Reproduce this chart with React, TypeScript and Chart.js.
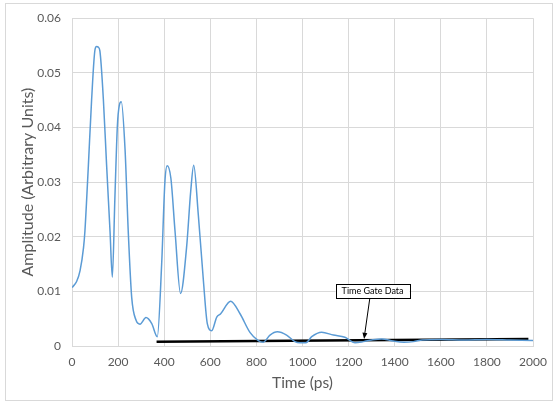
import React, { useEffect, useRef } from "react";
import { Chart, registerables } from "chart.js";

Chart.register(...registerables);

// Measured waveform: time (ps) and amplitude (arbitrary units)
const timePs = [
  0, 20, 35, 50, 56, 65, 71, 85, 100, 107, 114, 121, 136, 150, 165, 175, 186, 197, 205, 214,
  230, 244, 259, 278, 295, 321, 346, 370, 389, 403, 413, 429, 447, 471, 497, 515, 528, 548,
  570, 587, 606, 628, 645, 688, 729, 772, 808, 830, 859, 891, 931, 967, 989, 1015, 1040,
  1083, 1134, 1184, 1228, 1264, 1300, 1343, 1394, 1440, 1481, 1520, 1600, 1700, 1800, 1900, 2000,
];
const amplitude = [
  0.0107, 0.0118, 0.0138, 0.018, 0.021, 0.028, 0.033, 0.045, 0.0543, 0.0548, 0.0547, 0.054,
  0.0452, 0.0332, 0.021, 0.0126, 0.027, 0.0404, 0.044, 0.0447, 0.0361, 0.021, 0.0089, 0.0047,
  0.004, 0.0052, 0.0041, 0.0017, 0.015, 0.03, 0.033, 0.0307, 0.021, 0.0096, 0.018, 0.0283,
  0.0331, 0.024, 0.012, 0.0041, 0.0028, 0.0053, 0.0059, 0.0082, 0.0059, 0.0025, 0.001, 0.0007,
  0.002, 0.0026, 0.002, 0.0008, 0.0006, 0.0006, 0.0017, 0.0025, 0.002, 0.0016, 0.0006, 0.0008,
  0.0011, 0.0013, 0.0009, 0.0007, 0.0008, 0.0011, 0.0012, 0.0011, 0.0012, 0.0011, 0.001,
];

// Time gate data
const gateTimes = [367, 1980];
const gateAmps = [0.0008, 0.00127];

// Annotation
const gateLabelText = "Time Gate Data";
const gateLabelTime = 1304;
const gateLabelAmp = 0.0101;
const arrowTipTime = 1267;
const arrowTipAmp = 0.0013;

const xTicks = [0, 200, 400, 600, 800, 1000, 1200, 1400, 1600, 1800, 2000];
const yTicks = [0, 0.01, 0.02, 0.03, 0.04, 0.05, 0.06];

const FONT = "Lato, 'Open Sans', sans-serif";
const TEXT = "#595959";
const GRID = "#d9d9d9";

const annotationPlugin = {
  id: "gateAnnotation",
  afterDatasetsDraw(chart: any) {
    const { ctx, scales } = chart;
    const x = scales.x;
    const y = scales.y;
    const cx = x.getPixelForValue(gateLabelTime);
    const cy = y.getPixelForValue(gateLabelAmp);
    ctx.save();
    ctx.font = `9px ${FONT}`;
    const tw = ctx.measureText(gateLabelText).width;
    const w = tw + 12;
    const h = 14;
    const bx = cx - w / 2;
    const by = cy - h / 2;
    ctx.fillStyle = "#ffffff";
    ctx.fillRect(bx, by, w, h);
    ctx.strokeStyle = "#000000";
    ctx.lineWidth = 1;
    ctx.strokeRect(Math.round(bx) + 0.5, Math.round(by) + 0.5, Math.round(w), Math.round(h));
    ctx.fillStyle = "#000000";
    ctx.textAlign = "center";
    ctx.textBaseline = "middle";
    ctx.fillText(gateLabelText, cx, cy + 0.5);

    // arrow
    const sx = x.getPixelForValue(gateLabelTime - 12);
    const sy = by + h + 0.5;
    const tx = x.getPixelForValue(arrowTipTime);
    const ty = y.getPixelForValue(arrowTipAmp);
    const ang = Math.atan2(ty - sy, tx - sx);
    const hl = 6;
    const hw = 2.5;
    const baseX = tx - hl * Math.cos(ang);
    const baseY = ty - hl * Math.sin(ang);
    ctx.beginPath();
    ctx.moveTo(sx, sy);
    ctx.lineTo(baseX, baseY);
    ctx.lineWidth = 1;
    ctx.stroke();
    ctx.beginPath();
    ctx.moveTo(tx, ty);
    ctx.lineTo(baseX + hw * Math.sin(ang), baseY - hw * Math.cos(ang));
    ctx.lineTo(baseX - hw * Math.sin(ang), baseY + hw * Math.cos(ang));
    ctx.closePath();
    ctx.fill();
    ctx.restore();
  },
};

export default function App() {
  const ref = useRef<HTMLCanvasElement | null>(null);

  useEffect(() => {
    document.body.style.margin = "0";
    if (!ref.current) return;
    const chart = new Chart(ref.current, {
      type: "line",
      data: {
        datasets: [
          {
            data: timePs.map((t, i) => ({ x: t, y: amplitude[i] })),
            borderColor: "#5B9BD5",
            borderWidth: 1.5,
            pointRadius: 0,
            cubicInterpolationMode: "monotone",
            fill: false,
          },
          {
            data: gateTimes.map((t, i) => ({ x: t, y: gateAmps[i] })),
            borderColor: "#000000",
            borderWidth: 2.5,
            pointRadius: 0,
            fill: false,
          },
        ],
      },
      options: {
        animation: false,
        responsive: false,
        layout: { padding: { left: 0, top: 15, right: 24, bottom: 0 } },
        plugins: { legend: { display: false }, tooltip: { enabled: false } },
        scales: {
          x: {
            type: "linear",
            min: 0,
            max: 2000,
            afterFit: (s: any) => {
              s.height = 64;
            },
            afterBuildTicks: (s: any) => {
              s.ticks = xTicks.map((v) => ({ value: v }));
            },
            ticks: {
              color: TEXT,
              font: { family: FONT, size: 12 },
              padding: 9,
              maxRotation: 0,
              callback: (v: any) => String(v),
            },
            grid: { color: GRID, drawTicks: false, lineWidth: 1 },
            border: { color: GRID },
            title: {
              display: true,
              text: "Time (ps)",
              color: TEXT,
              font: { family: FONT, size: 15.5 },
              padding: { top: 0, bottom: 18 },
            },
          },
          y: {
            type: "linear",
            min: 0,
            max: 0.06,
            afterFit: (s: any) => {
              s.width = 72;
            },
            afterBuildTicks: (s: any) => {
              s.ticks = yTicks.map((v) => ({ value: v }));
            },
            ticks: {
              color: TEXT,
              font: { family: FONT, size: 12 },
              padding: 11,
              callback: (v: any) => (v === 0 ? "0" : Number(v).toFixed(2)),
            },
            grid: { color: GRID, drawTicks: false, lineWidth: 1 },
            border: { color: GRID },
            title: {
              display: true,
              text: "Amplitude (Arbitrary Units)",
              color: TEXT,
              font: { family: FONT, size: 16 },
              padding: { top: 18, bottom: 0 },
            },
          },
        },
      },
      plugins: [annotationPlugin],
    } as any);
    return () => chart.destroy();
  }, []);

  return (
    <div style={{ position: "fixed", left: 0, top: 0, width: 557, height: 410, background: "#fff" }}>
      <div
        style={{
          position: "absolute",
          left: 5,
          top: 3,
          width: 548,
          height: 398,
          border: `1px solid ${GRID}`,
          boxSizing: "border-box",
        }}
      />
      <canvas
        ref={ref}
        width={557}
        height={410}
        style={{ position: "absolute", left: 0, top: 0, width: 557, height: 410 }}
      />
    </div>
  );
}
